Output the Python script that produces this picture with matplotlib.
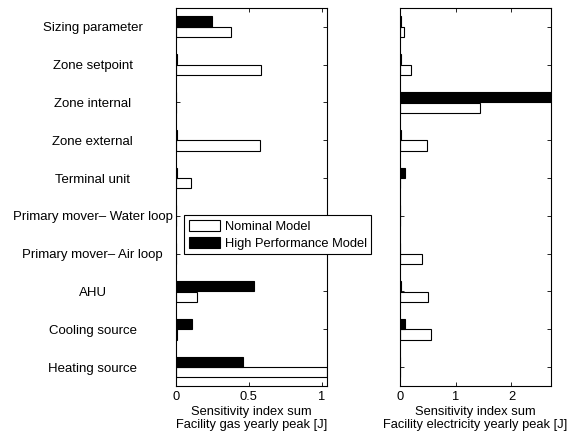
import numpy as np
import matplotlib
matplotlib.use('Agg')
import matplotlib.pyplot as plt
from matplotlib.patches import Patch

plt.rcParams['font.family'] = ['Liberation Sans', 'DejaVu Sans']
plt.rcParams['font.size'] = 9.3

categories = ['Sizing parameter', 'Zone setpoint', 'Zone internal', 'Zone external',
              'Terminal unit', 'Primary mover\u2013 Water loop', 'Primary mover\u2013 Air loop',
              'AHU', 'Cooling source', 'Heating source']

# facility gas yearly peak
gas_nominal = [0.375, 0.585, 0.0, 0.575, 0.10, 0.0, 0.0, 0.145, 0.01, 1.035]
gas_high = [0.25, 0.01, 0.0, 0.005, 0.005, 0.0, 0.0, 0.535, 0.11, 0.46]

# facility electricity yearly peak
elec_nominal = [0.07, 0.19, 1.43, 0.49, 0.005, 0.0, 0.40, 0.51, 0.55, 0.0]
elec_high = [0.01, 0.01, 2.71, 0.01, 0.08, 0.005, 0.005, 0.01, 0.09, 0.0]

fig = plt.figure(figsize=(5.74, 4.34), dpi=100)
ax1 = fig.add_axes([0.3066, 0.1106, 0.263, 0.871])
ax2 = fig.add_axes([0.697, 0.1106, 0.263, 0.871])

y = np.arange(len(categories))
h = 0.27
off = 0.14

for ax, nom, high, xmax in [(ax1, gas_nominal, gas_high, 1.035),
                            (ax2, elec_nominal, elec_high, 2.71)]:
    ax.barh(y + off, nom, height=h, color='white', edgecolor='black', linewidth=0.8)
    ax.barh(y - off, high, height=h, color='black', edgecolor='black', linewidth=0.8)
    ax.set_xlim(0, xmax)
    ax.set_ylim(len(categories) - 0.5, -0.5)
    ax.set_yticks(y)
    ax.tick_params(direction='in', length=3, top=True, right=True, width=0.6)
    for s in ax.spines.values():
        s.set_linewidth(0.8)

ax1.set_xticks([0, 0.5, 1])
ax1.set_xticklabels(['0', '0.5', '1'])
ax1.set_yticklabels(categories, ha='center', fontsize=9.5)
ax1.tick_params(axis='y', pad=60)
ax1.set_xlabel('Sensitivity index sum\nFacility gas yearly peak [J]', labelpad=2)

ax2.set_xticks([0, 1, 2])
ax2.set_yticklabels([])
ax2.set_xlabel('Sensitivity index sum\nFacility electricity yearly peak [J]', labelpad=2)

handles = [Patch(facecolor='white', edgecolor='black', linewidth=0.8),
           Patch(facecolor='black', edgecolor='black', linewidth=0.8)]
leg = fig.legend(handles, ['Nominal Model', 'High Performance Model'],
                 loc='upper left', bbox_to_anchor=(0.3206, 0.5046),
                 fancybox=False, edgecolor='black', framealpha=1,
                 borderpad=0.35, labelspacing=0.3, handlelength=2.4,
                 handleheight=1.0, handletextpad=0.4, borderaxespad=0)
leg.get_frame().set_linewidth(0.8)

fig.savefig('out.png', dpi=100)
